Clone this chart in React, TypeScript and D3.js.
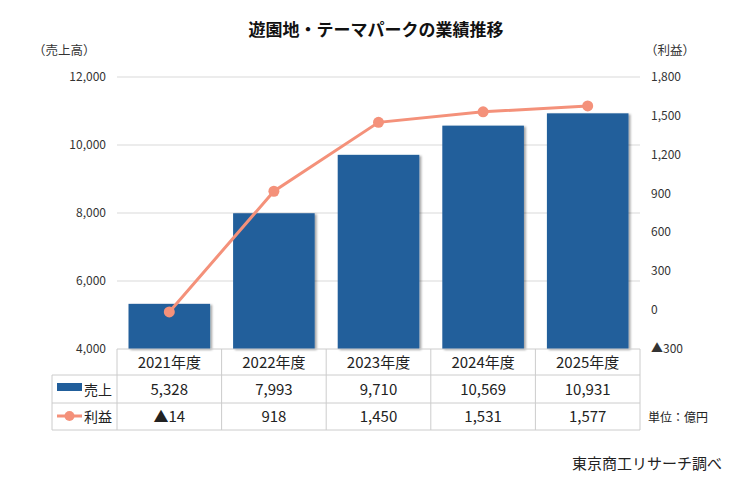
import * as d3 from 'd3';
import { useRef, useEffect } from 'react';

const years = ['2021年度', '2022年度', '2023年度', '2024年度', '2025年度'];
const sales = [5328, 7993, 9710, 10569, 10931];
const profit = [-14, 918, 1450, 1531, 1577];
const leftTicks = [4000, 6000, 8000, 10000, 12000];
const rightTicks = [-300, 0, 300, 600, 900, 1200, 1500, 1800];

const font = '"Noto Sans CJK JP", "Noto Sans", sans-serif';
const barColor = '#215e9b';
const lineColor = '#f4917a';

const fmt = (v: number) => (v < 0 ? '▲' + d3.format(',')(-v) : d3.format(',')(v));

const App = () => {
  const ref: any = useRef();

  useEffect(() => {
    const svg = d3.select(ref.current);
    svg.selectAll('*').remove();

    const left = 117, right = 640, top = 77, bottom = 349;

    const x = d3.scaleBand().domain(years).range([left, right]).paddingInner(0.22).paddingOuter(0.11);
    const yL = d3.scaleLinear().domain([4000, 12000]).range([bottom, top]);
    const yR = d3.scaleLinear().domain([-300, 1800]).range([bottom, top]);

    const defs = svg.append('defs');
    const f = defs.append('filter').attr('id', 'shadow').attr('x', '-10%').attr('y', '-10%').attr('width', '130%').attr('height', '130%');
    f.append('feDropShadow').attr('dx', 2).attr('dy', 1).attr('stdDeviation', 1.2)
      .attr('flood-color', '#000').attr('flood-opacity', 0.35);

    // title
    svg.append('text').attr('x', 376).attr('y', 36).attr('text-anchor', 'middle')
      .attr('font-size', 17).attr('font-weight', 'bold').attr('fill', '#111')
      .attr('font-family', font).text('遊園地・テーマパークの業績推移');

    // gridlines
    svg.append('g').selectAll('line').data(leftTicks.filter(t => t > 4000)).enter().append('line')
      .attr('x1', left).attr('x2', right)
      .attr('y1', d => yL(d)).attr('y2', d => yL(d))
      .attr('stroke', '#d9d9d9').attr('stroke-width', 1);

    // left axis labels
    svg.append('g').selectAll('text').data(leftTicks).enter().append('text')
      .attr('x', 106).attr('y', d => yL(d) + 4).attr('text-anchor', 'end')
      .attr('font-size', 12).attr('fill', '#333').attr('font-family', font)
      .text(d => d3.format(',')(d));

    // right axis labels
    svg.append('g').selectAll('text').data(rightTicks).enter().append('text')
      .attr('x', 651).attr('y', d => yR(d) + 4).attr('text-anchor', 'start')
      .attr('font-size', 12).attr('fill', '#333').attr('font-family', font)
      .text(d => fmt(d));

    svg.append('text').attr('x', 33).attr('y', 55).attr('font-size', 12.5).attr('fill', '#333')
      .attr('font-family', font).text('（売上高）');
    svg.append('text').attr('x', 645).attr('y', 55).attr('font-size', 12.5).attr('fill', '#333')
      .attr('font-family', font).text('（利益）');

    // bars
    svg.append('g').selectAll('rect').data(sales).enter().append('rect')
      .attr('x', (d, i) => x(years[i])!)
      .attr('y', d => yL(d))
      .attr('width', x.bandwidth())
      .attr('height', d => bottom - yL(d))
      .attr('fill', barColor)
      .attr('filter', 'url(#shadow)');

    // line
    const cx = (i: number) => x(years[i])! + x.bandwidth() / 2;
    const line = d3.line<number>().x((d, i) => cx(i)).y(d => yR(d));
    svg.append('path').datum(profit).attr('d', line).attr('fill', 'none')
      .attr('stroke', lineColor).attr('stroke-width', 3);
    svg.append('g').selectAll('circle').data(profit).enter().append('circle')
      .attr('cx', (d, i) => cx(i)).attr('cy', d => yR(d)).attr('r', 5.5)
      .attr('fill', lineColor);

    // table
    const rows = [349, 375, 403, 430];
    const tableLeft = 52;
    const tg = svg.append('g');
    tg.append('line').attr('x1', left).attr('x2', right).attr('y1', rows[0]).attr('y2', rows[0]).attr('stroke', '#ccc');
    rows.slice(1).forEach(r => {
      tg.append('line').attr('x1', tableLeft).attr('x2', right).attr('y1', r).attr('y2', r).attr('stroke', '#ccc');
    });
    tg.append('line').attr('x1', tableLeft).attr('x2', tableLeft).attr('y1', rows[1]).attr('y2', rows[3]).attr('stroke', '#ccc');
    const cols = [left, ...years.slice(1).map(y => x(y)! - x.step() * x.paddingInner() / 2), right];
    cols.forEach(c => {
      tg.append('line').attr('x1', c).attr('x2', c).attr('y1', rows[0]).attr('y2', rows[3]).attr('stroke', '#ccc');
    });
    const colCenter = (i: number) => x(years[i])! + x.bandwidth() / 2;
    const rowMid = (r: number) => (rows[r] + rows[r + 1]) / 2 + 5.5;
    tg.selectAll('.yr').data(years).enter().append('text')
      .attr('x', (d, i) => colCenter(i)).attr('y', rowMid(0)).attr('text-anchor', 'middle')
      .attr('font-size', 15).attr('fill', '#222').attr('font-family', font).text(d => d);
    tg.selectAll('.sl').data(sales).enter().append('text')
      .attr('x', (d, i) => colCenter(i)).attr('y', rowMid(1)).attr('text-anchor', 'middle')
      .attr('font-size', 15).attr('fill', '#222').attr('font-family', font).text(d => fmt(d));
    tg.selectAll('.pf').data(profit).enter().append('text')
      .attr('x', (d, i) => colCenter(i)).attr('y', rowMid(2)).attr('text-anchor', 'middle')
      .attr('font-size', 15).attr('fill', '#222').attr('font-family', font).text(d => fmt(d));

    // legend keys
    tg.append('rect').attr('x', 57).attr('y', 383).attr('width', 25).attr('height', 8).attr('fill', barColor);
    tg.append('text').attr('x', 84).attr('y', rowMid(1)).attr('font-size', 14).attr('fill', '#222')
      .attr('font-family', font).text('売上');
    tg.append('line').attr('x1', 57).attr('x2', 82).attr('y1', 416).attr('y2', 416)
      .attr('stroke', lineColor).attr('stroke-width', 3);
    tg.append('circle').attr('cx', 69.5).attr('cy', 416).attr('r', 5).attr('fill', lineColor);
    tg.append('text').attr('x', 84).attr('y', rowMid(2)).attr('font-size', 14).attr('fill', '#222')
      .attr('font-family', font).text('利益');

    svg.append('text').attr('x', 648).attr('y', 422).attr('font-size', 12).attr('fill', '#222')
      .attr('font-family', font).text('単位：億円');
    svg.append('text').attr('x', 722).attr('y', 469).attr('text-anchor', 'end').attr('font-size', 15)
      .attr('fill', '#222').attr('font-family', font).text('東京商工リサーチ調べ');
  }, []);

  return (
    <svg ref={ref} width={744} height={482}
      style={{ position: 'absolute', left: 0, top: 0, background: '#fff' }} />
  );
};

export default App;
